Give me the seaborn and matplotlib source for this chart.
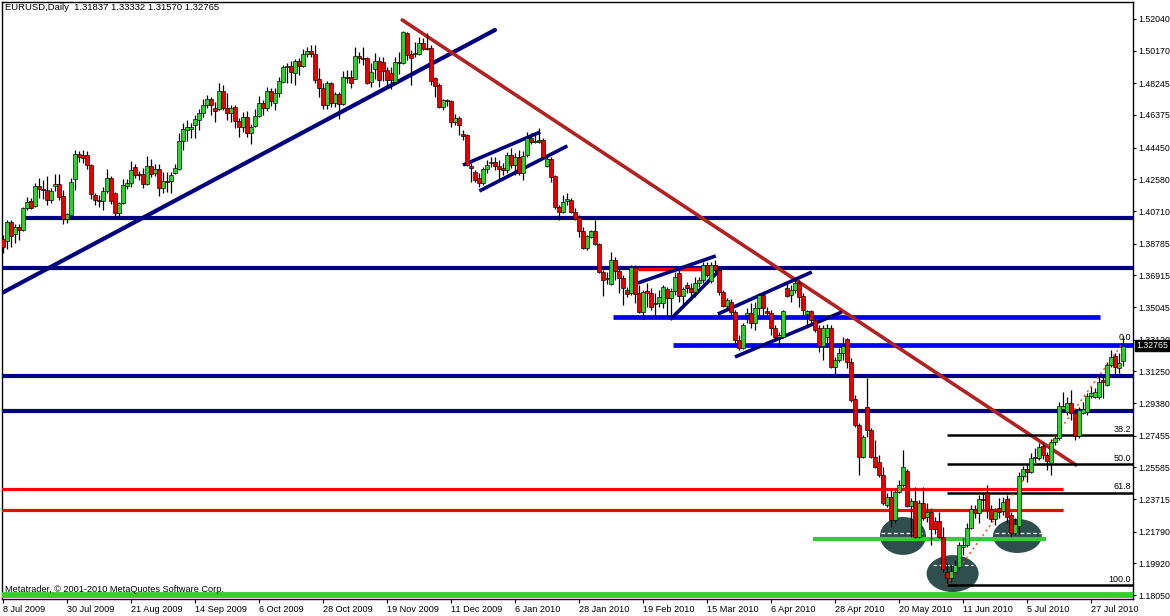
import numpy as np
import matplotlib
matplotlib.use("Agg")
import matplotlib.pyplot as plt
from matplotlib.patches import Ellipse
import seaborn as sns

# EURUSD daily candles, 8 Jul 2009 .. 6 Aug 2010
opens = [
    1.3906, 1.3894, 1.4006, 1.3935, 1.3977, 1.3959, 1.4089, 1.4130, 1.4101, 1.4219,
    1.4201, 1.4195, 1.4136, 1.4219, 1.4230, 1.4160, 1.4024, 1.4047, 1.4260, 1.4407,
    1.4401, 1.4401, 1.4342, 1.4165, 1.4136, 1.4130, 1.4189, 1.4266, 1.4177, 1.4059,
    1.4118, 1.4219, 1.4236, 1.4331, 1.4289, 1.4289, 1.4230, 1.4337, 1.4295, 1.4319,
    1.4207, 1.4248, 1.4248, 1.4295, 1.4319, 1.4484, 1.4549, 1.4555, 1.4578, 1.4608,
    1.4649, 1.4696, 1.4732, 1.4679, 1.4673, 1.4779, 1.4679, 1.4649, 1.4685, 1.4602,
    1.4567, 1.4626, 1.4531, 1.4573, 1.4632, 1.4708, 1.4679, 1.4779, 1.4708, 1.4767,
    1.4832, 1.4921, 1.4927, 1.4885, 1.4956, 1.4927, 1.4997, 1.5015, 1.4997, 1.4850,
    1.4797, 1.4696, 1.4826, 1.4708, 1.4761, 1.4702, 1.4862, 1.4862, 1.4850, 1.4985,
    1.4974, 1.4974, 1.4832, 1.4909, 1.4956, 1.4950, 1.4903, 1.4885, 1.4832, 1.4950,
    1.4944, 1.5121, 1.4997, 1.4997, 1.4997, 1.5062, 1.5033, 1.5033, 1.4856, 1.4814,
    1.4685, 1.4726, 1.4720, 1.4596, 1.4620, 1.4525, 1.4519, 1.4337, 1.4301, 1.4266,
    1.4236, 1.4319, 1.4354, 1.4360, 1.4337, 1.4325, 1.4313, 1.4401, 1.4342, 1.4389,
    1.4295, 1.4401, 1.4502, 1.4478, 1.4490, 1.4490, 1.4337, 1.4378, 1.4278, 1.4095,
    1.4065, 1.4130, 1.4136, 1.4065, 1.4036, 1.3953, 1.3853, 1.3918, 1.3953, 1.3876,
    1.3711, 1.3670, 1.3640, 1.3782, 1.3717, 1.3676, 1.3605, 1.3587, 1.3741, 1.3587,
    1.3475, 1.3599, 1.3587, 1.3528, 1.3528, 1.3528, 1.3611, 1.3558, 1.3599, 1.3705,
    1.3570, 1.3635, 1.3617, 1.3593, 1.3646, 1.3664, 1.3753, 1.3658, 1.3753, 1.3723,
    1.3593, 1.3511, 1.3534, 1.3475, 1.3310, 1.3263, 1.3458, 1.3469, 1.3410, 1.3499,
    1.3576, 1.3481, 1.3469, 1.3381, 1.3328, 1.3328, 1.3617, 1.3576, 1.3605, 1.3646,
    1.3570, 1.3463, 1.3481, 1.3428, 1.3381, 1.3275, 1.3328, 1.3381, 1.3151, 1.3192,
    1.3233, 1.3316, 1.3180, 1.2962, 1.2808, 1.2620, 1.2915, 1.2779, 1.2620, 1.2590,
    1.2513, 1.2336, 1.2384, 1.2248, 1.2413, 1.2455, 1.2537, 1.2330, 1.2360, 1.2148,
    1.2348, 1.2266, 1.2295, 1.2242, 1.2242, 1.2148, 1.1941, 1.1906, 1.1941, 1.1971,
    1.2089, 1.2100, 1.2201, 1.2313, 1.2289, 1.2372, 1.2407, 1.2313, 1.2254, 1.2319,
    1.2301, 1.2372, 1.2278, 1.2171, 1.2212, 1.2508, 1.2549, 1.2531, 1.2620, 1.2614,
    1.2685, 1.2632, 1.2584, 1.2708, 1.2732, 1.2903, 1.2885, 1.2938, 1.2879, 1.2744,
    1.2879, 1.2885, 1.2980, 1.2974, 1.2974, 1.3074, 1.3045, 1.3162, 1.3216, 1.3145,
    1.31837,
]
highs = [
    1.3929, 1.4018, 1.4018, 1.3994, 1.3994, 1.4095, 1.4154, 1.4148, 1.4236, 1.4266,
    1.4254, 1.4278, 1.4207, 1.4289, 1.4289, 1.4195, 1.4059, 1.4266, 1.4431, 1.4425,
    1.4431, 1.4425, 1.4348, 1.4177, 1.4165, 1.4213, 1.4319, 1.4278, 1.4183, 1.4124,
    1.4260, 1.4260, 1.4366, 1.4348, 1.4307, 1.4325, 1.4396, 1.4378, 1.4348, 1.4348,
    1.4301, 1.4301, 1.4301, 1.4348, 1.4531, 1.4590, 1.4608, 1.4590, 1.4637, 1.4673,
    1.4732, 1.4755, 1.4743, 1.4714, 1.4826, 1.4814, 1.4767, 1.4696, 1.4696, 1.4620,
    1.4655, 1.4661, 1.4584, 1.4673, 1.4750, 1.4726, 1.4803, 1.4797, 1.4797, 1.4862,
    1.4932, 1.4944, 1.4956, 1.4968, 1.4974, 1.5027, 1.5039, 1.5050, 1.5050, 1.4915,
    1.4826, 1.4838, 1.4832, 1.4773, 1.4773, 1.4897, 1.4903, 1.4903, 1.5039, 1.5009,
    1.5039, 1.4980, 1.4944, 1.5003, 1.4980, 1.4980, 1.4921, 1.4921, 1.4980, 1.5009,
    1.5133, 1.5127, 1.5021, 1.5068, 1.5098, 1.5092, 1.5121, 1.5050, 1.4862, 1.4826,
    1.4732, 1.4732, 1.4726, 1.4643, 1.4632, 1.4549, 1.4525, 1.4354, 1.4313, 1.4295,
    1.4331, 1.4372, 1.4389, 1.4389, 1.4372, 1.4354, 1.4419, 1.4443, 1.4413, 1.4431,
    1.4425, 1.4537, 1.4531, 1.4531, 1.4561, 1.4502, 1.4389, 1.4389, 1.4283, 1.4106,
    1.4165, 1.4177, 1.4148, 1.4089, 1.4047, 1.3977, 1.3929, 1.3959, 1.4018, 1.3882,
    1.3723, 1.3711, 1.3829, 1.3800, 1.3741, 1.3694, 1.3623, 1.3753, 1.3753, 1.3635,
    1.3605, 1.3646, 1.3617, 1.3587, 1.3605, 1.3635, 1.3623, 1.3617, 1.3711, 1.3723,
    1.3623, 1.3652, 1.3646, 1.3682, 1.3682, 1.3770, 1.3770, 1.3770, 1.3782, 1.3735,
    1.3605, 1.3558, 1.3552, 1.3487, 1.3340, 1.3410, 1.3499, 1.3528, 1.3534, 1.3587,
    1.3587, 1.3505, 1.3487, 1.3399, 1.3357, 1.3487, 1.3646, 1.3635, 1.3676, 1.3664,
    1.3587, 1.3487, 1.3487, 1.3440, 1.3399, 1.3399, 1.3404, 1.3399, 1.3210, 1.3263,
    1.3328, 1.3322, 1.3204, 1.2985, 1.2820, 1.2750, 1.3086, 1.2791, 1.2720, 1.2632,
    1.2561, 1.2407, 1.2425, 1.2425, 1.2484, 1.2661, 1.2549, 1.2378, 1.2443, 1.2366,
    1.2443, 1.2348, 1.2319, 1.2266, 1.2295, 1.2207, 1.1994, 1.1982, 1.2012, 1.2118,
    1.2142, 1.2230, 1.2336, 1.2336, 1.2396, 1.2407, 1.2455, 1.2336, 1.2319, 1.2378,
    1.2384, 1.2396, 1.2295, 1.2260, 1.2531, 1.2566, 1.2572, 1.2643, 1.2673, 1.2702,
    1.2708, 1.2649, 1.2726, 1.2750, 1.2944, 1.3003, 1.2974, 1.3015, 1.2897, 1.2915,
    1.2944, 1.2997, 1.3033, 1.3027, 1.3104, 1.3092, 1.3180, 1.3251, 1.3233, 1.3233,
    1.33332,
]
lows = [
    1.3823, 1.3847, 1.3859, 1.3882, 1.3900, 1.3953, 1.4077, 1.4083, 1.4095, 1.4148,
    1.4142, 1.4106, 1.4118, 1.4189, 1.4136, 1.3994, 1.4000, 1.4047, 1.4195, 1.4360,
    1.4354, 1.4319, 1.4142, 1.4106, 1.4095, 1.4077, 1.4177, 1.4112, 1.4036, 1.4041,
    1.4112, 1.4201, 1.4213, 1.4266, 1.4254, 1.4207, 1.4225, 1.4272, 1.4278, 1.4160,
    1.4177, 1.4183, 1.4177, 1.4289, 1.4313, 1.4431, 1.4484, 1.4502, 1.4502, 1.4549,
    1.4626, 1.4679, 1.4637, 1.4596, 1.4667, 1.4667, 1.4608, 1.4596, 1.4561, 1.4508,
    1.4537, 1.4508, 1.4466, 1.4567, 1.4626, 1.4637, 1.4661, 1.4690, 1.4667, 1.4743,
    1.4826, 1.4826, 1.4826, 1.4814, 1.4873, 1.4921, 1.4980, 1.4980, 1.4826, 1.4743,
    1.4673, 1.4673, 1.4685, 1.4685, 1.4614, 1.4696, 1.4826, 1.4797, 1.4850, 1.4944,
    1.4932, 1.4820, 1.4803, 1.4850, 1.4803, 1.4838, 1.4803, 1.4791, 1.4826, 1.4879,
    1.4938, 1.4962, 1.4814, 1.4980, 1.4991, 1.5021, 1.5021, 1.4814, 1.4743, 1.4679,
    1.4667, 1.4690, 1.4567, 1.4578, 1.4519, 1.4490, 1.4337, 1.4242, 1.4242, 1.4213,
    1.4225, 1.4295, 1.4331, 1.4313, 1.4260, 1.4283, 1.4295, 1.4325, 1.4283, 1.4283,
    1.4254, 1.4389, 1.4466, 1.4472, 1.4472, 1.4384, 1.4331, 1.4242, 1.4083, 1.4018,
    1.4059, 1.4106, 1.4059, 1.4018, 1.3918, 1.3847, 1.3841, 1.3912, 1.3871, 1.3705,
    1.3569, 1.3640, 1.3635, 1.3664, 1.3587, 1.3516, 1.3564, 1.3576, 1.3528, 1.3469,
    1.3434, 1.3505, 1.3487, 1.3446, 1.3505, 1.3499, 1.3446, 1.3428, 1.3576, 1.3534,
    1.3516, 1.3587, 1.3546, 1.3564, 1.3623, 1.3646, 1.3682, 1.3646, 1.3711, 1.3576,
    1.3505, 1.3487, 1.3458, 1.3292, 1.3251, 1.3257, 1.3410, 1.3381, 1.3369, 1.3458,
    1.3446, 1.3458, 1.3340, 1.3310, 1.3269, 1.3322, 1.3564, 1.3534, 1.3587, 1.3505,
    1.3458, 1.3399, 1.3399, 1.3357, 1.3239, 1.3192, 1.3269, 1.3145, 1.3103, 1.3180,
    1.3192, 1.3145, 1.2944, 1.2797, 1.2513, 1.2614, 1.2738, 1.2614, 1.2555, 1.2502,
    1.2336, 1.2325, 1.2207, 1.2230, 1.2407, 1.2443, 1.2325, 1.2148, 1.2142, 1.2142,
    1.2248, 1.2236, 1.2100, 1.2165, 1.2142, 1.1941, 1.1870, 1.1882, 1.1935, 1.1965,
    1.2041, 1.2089, 1.2195, 1.2260, 1.2230, 1.2307, 1.2260, 1.2236, 1.2219, 1.2260,
    1.2278, 1.2230, 1.2148, 1.2159, 1.2165, 1.2484, 1.2472, 1.2525, 1.2590, 1.2602,
    1.2608, 1.2543, 1.2513, 1.2691, 1.2720, 1.2885, 1.2868, 1.2838, 1.2720, 1.2732,
    1.2873, 1.2868, 1.2968, 1.2968, 1.2962, 1.2968, 1.3039, 1.3151, 1.3110, 1.3116,
    1.31570,
]
closes = [
    1.3859, 1.4006, 1.3924, 1.3977, 1.3959, 1.4089, 1.4124, 1.4089, 1.4219, 1.4201,
    1.4195, 1.4136, 1.4189, 1.4230, 1.4154, 1.4024, 1.4053, 1.4242, 1.4407, 1.4389,
    1.4384, 1.4342, 1.4171, 1.4136, 1.4130, 1.4189, 1.4266, 1.4130, 1.4059, 1.4118,
    1.4225, 1.4236, 1.4313, 1.4283, 1.4283, 1.4230, 1.4337, 1.4289, 1.4319, 1.4207,
    1.4248, 1.4242, 1.4283, 1.4325, 1.4484, 1.4555, 1.4567, 1.4567, 1.4614, 1.4649,
    1.4696, 1.4732, 1.4696, 1.4661, 1.4779, 1.4679, 1.4649, 1.4679, 1.4602, 1.4567,
    1.4626, 1.4531, 1.4567, 1.4632, 1.4708, 1.4679, 1.4779, 1.4720, 1.4767, 1.4838,
    1.4921, 1.4927, 1.4891, 1.4956, 1.4927, 1.4997, 1.5015, 1.4997, 1.4844, 1.4797,
    1.4696, 1.4826, 1.4708, 1.4761, 1.4702, 1.4862, 1.4856, 1.4826, 1.4985, 1.4974,
    1.4968, 1.4826, 1.4891, 1.4956, 1.4844, 1.4897, 1.4844, 1.4844, 1.4950, 1.4944,
    1.5127, 1.4991, 1.4974, 1.5003, 1.5062, 1.5027, 1.5027, 1.4838, 1.4809, 1.4685,
    1.4726, 1.4720, 1.4596, 1.4620, 1.4578, 1.4514, 1.4342, 1.4325, 1.4254, 1.4236,
    1.4319, 1.4342, 1.4360, 1.4337, 1.4319, 1.4313, 1.4401, 1.4342, 1.4389, 1.4295,
    1.4396, 1.4502, 1.4478, 1.4484, 1.4478, 1.4389, 1.4378, 1.4272, 1.4095, 1.4065,
    1.4124, 1.4142, 1.4065, 1.4024, 1.3953, 1.3853, 1.3924, 1.3953, 1.3876, 1.3711,
    1.3664, 1.3676, 1.3782, 1.3717, 1.3676, 1.3617, 1.3582, 1.3741, 1.3582, 1.3475,
    1.3593, 1.3587, 1.3505, 1.3522, 1.3564, 1.3623, 1.3558, 1.3599, 1.3682, 1.3570,
    1.3611, 1.3617, 1.3593, 1.3646, 1.3664, 1.3753, 1.3694, 1.3753, 1.3723, 1.3593,
    1.3511, 1.3546, 1.3475, 1.3310, 1.3263, 1.3399, 1.3469, 1.3410, 1.3499, 1.3576,
    1.3499, 1.3469, 1.3381, 1.3328, 1.3340, 1.3481, 1.3570, 1.3605, 1.3646, 1.3564,
    1.3487, 1.3481, 1.3428, 1.3369, 1.3275, 1.3381, 1.3381, 1.3151, 1.3192, 1.3233,
    1.3275, 1.3180, 1.2956, 1.2808, 1.2620, 1.2738, 1.2779, 1.2620, 1.2561, 1.2513,
    1.2348, 1.2384, 1.2248, 1.2413, 1.2455, 1.2561, 1.2330, 1.2360, 1.2148, 1.2348,
    1.2260, 1.2295, 1.2195, 1.2195, 1.2148, 1.1959, 1.1906, 1.1947, 1.1982, 1.2100,
    1.2100, 1.2201, 1.2313, 1.2289, 1.2372, 1.2366, 1.2307, 1.2254, 1.2301, 1.2295,
    1.2354, 1.2266, 1.2171, 1.2224, 1.2508, 1.2549, 1.2531, 1.2614, 1.2614, 1.2679,
    1.2632, 1.2596, 1.2708, 1.2732, 1.2921, 1.2921, 1.2938, 1.2879, 1.2744, 1.2897,
    1.2903, 1.2980, 1.2997, 1.3003, 1.3062, 1.3062, 1.3162, 1.3210, 1.3151, 1.3174,
    1.32765,
]

date_labels = ["8 Jul 2009", "30 Jul 2009", "21 Aug 2009", "14 Sep 2009", "6 Oct 2009",
               "28 Oct 2009", "19 Nov 2009", "11 Dec 2009", "6 Jan 2010", "28 Jan 2010",
               "19 Feb 2010", "15 Mar 2010", "6 Apr 2010", "28 Apr 2010", "20 May 2010",
               "11 Jun 2010", "5 Jul 2010", "27 Jul 2010"]
bars_per_label = 16

price_ticks = [1.52040, 1.50170, 1.48245, 1.46375, 1.44450, 1.42580, 1.40710, 1.38785,
               1.36915, 1.35045, 1.33120, 1.31250, 1.29380, 1.27455, 1.25585, 1.23715,
               1.21790, 1.19920, 1.18050]

# objects drawn on the chart, anchors as (bar index, price)
navy_levels = [1.4030, 1.3735, 1.3098, 1.2891]
navy_starts = [5.5, -1, -1, -1]
blue_levels = [1.3443, 1.3283]
blue_spans = [(152.5, 274.2), (167.5, 283)]
red_levels = [1.2428, 1.2310]
red_end = 265
red_short = [(158.7, 1.3729), (178.5, 1.3729)]
green_levels = [1.2138, 1.1805]
green_spans = [(202.5, 260.7), (-1, 283)]
up_trend = [(-0.3, 1.3587), (123, 1.5139)]
down_trend = [(99.8, 1.5198), (268.2, 1.2573)]
navy_channels = [
    [(115.0, 1.4342), (134.3, 1.4537)],
    [(119.1, 1.4189), (141.1, 1.4455)],
    [(158.7, 1.3646), (178.2, 1.3806)],
    [(167.2, 1.3440), (179.7, 1.3735)],
    [(178.7, 1.3463), (202.2, 1.3711)],
    [(183.0, 1.3210), (209.7, 1.3475)],
]
fib_low, fib_high = 1.1863, 1.3293
fib_start = 235.9
fib_levels = [0.0, 38.2, 50.0, 61.8, 100.0]
fib_trend = [(235.9, 1.1863), (280.0, 1.3293)]
ellipses = [(225.0, 1.2154, 11.5, 0.0224), (253.6, 1.2154, 12.2, 0.0201),
            (237.4, 1.1932, 13.0, 0.0218)]
white_dashes = [(219.5, 230.5, 1.2171), (248.0, 259.5, 1.2171), (232.5, 242.5, 1.1983)]

sns.set_theme(style="white")
plt.rcParams["font.family"] = ["Liberation Sans", "DejaVu Sans"]

fig = plt.figure(figsize=(11.7, 6.16), dpi=100)
ax = fig.add_axes([2 / 1170, 1 - 599 / 616, 1131 / 1170, 597 / 616])
ax.set_facecolor("white")

o = np.array(opens)
h = np.array(highs)
l = np.array(lows)
c = np.array(closes)
x = np.arange(len(c))
xmax = 282.5

# candles
ax.vlines(x, l, h, color="black", linewidth=0.9, zorder=5)
body_col = np.where(c > o, "#32cd32", np.where(c < o, "#e00000", "black"))
ax.bar(x, np.abs(c - o), bottom=np.minimum(o, c), width=0.8, color=body_col,
       edgecolor="black", linewidth=0.45, zorder=6)

# ellipses (background)
for cx, cy, w, hh in ellipses:
    ax.add_patch(Ellipse((cx, cy), w, hh, facecolor="#2f4f4f", edgecolor="none", zorder=1))
for x0, x1, y in white_dashes:
    ax.plot([x0, x1], [y, y], color="white", linewidth=0.9, dashes=(3, 2), zorder=2)

# horizontal levels
for y, x0 in zip(navy_levels, navy_starts):
    ax.plot([x0, xmax + 1], [y, y], color="#000080", linewidth=3.0, solid_capstyle="butt", zorder=4)
for y, (x0, x1) in zip(blue_levels, blue_spans):
    ax.plot([x0, x1], [y, y], color="#0000ff", linewidth=3.4, solid_capstyle="butt", zorder=4)
for y in red_levels:
    ax.plot([-1, red_end], [y, y], color="#ff0000", linewidth=2.3, solid_capstyle="butt", zorder=4)
ax.plot(*zip(*red_short), color="#ff0000", linewidth=2.5, solid_capstyle="butt", zorder=4)
for y, (x0, x1), lw in zip(green_levels, green_spans, [3.0, 4.2]):
    ax.plot([x0, x1], [y, y], color="#32cd32", linewidth=lw, solid_capstyle="butt", zorder=4)

# trend lines and channels
ax.plot(*zip(*up_trend), color="#000080", linewidth=3.0, zorder=4)
ax.plot(*zip(*down_trend), color="#b22222", linewidth=2.6, zorder=4)
for seg in navy_channels:
    ax.plot(*zip(*seg), color="#000080", linewidth=2.6, solid_capstyle="butt", zorder=4)

# fibonacci retracement (the 0.0 line sits under the blue level)
for lvl in fib_levels:
    y = fib_high - lvl / 100 * (fib_high - fib_low)
    if lvl > 0:
        ax.plot([fib_start, xmax + 1], [y, y], color="black", linewidth=1.8,
                solid_capstyle="butt", zorder=4)
    ax.text(xmax - 0.5, y + 0.0007, f"{lvl:.1f}", ha="right", va="bottom", fontsize=6.5,
            color="black", zorder=8)
ax.plot(*zip(*fib_trend), color="#ff4500", linewidth=1.0, dashes=(1.5, 2.5), zorder=4)

ax.set_xlim(-0.25, xmax)
ax.set_ylim(1.1782, 1.5304)

# axes / ticks (price scale on the right, dates at the bottom)
ax.yaxis.tick_right()
ax.set_yticks(price_ticks)
ax.set_yticklabels([f"{v:.5f}" for v in price_ticks])
ax.set_xticks(np.arange(len(date_labels)) * bars_per_label)
ax.set_xticklabels(date_labels, ha="left")
ax.tick_params(axis="y", direction="out", length=2.5, width=0.8, pad=1, labelsize=6.3,
               colors="black", right=True, left=False)
ax.tick_params(axis="x", direction="out", length=3, width=0.8, pad=1, labelsize=6.6,
               colors="black", bottom=True)
for sp in ax.spines.values():
    sp.set_color("black")
    sp.set_linewidth(1.0)
ax.grid(False)

# current price marker
ax.text(1.003, closes[-1], f"{closes[-1]:.5f}", transform=ax.get_yaxis_transform(),
        ha="left", va="center", fontsize=6.3, color="white", zorder=10, clip_on=False,
        bbox=dict(boxstyle="square,pad=0.12", facecolor="black", edgecolor="black"))

fig.text(5 / 1170, 1 - 3 / 616, "EURUSD,Daily  1.31837 1.33332 1.31570 1.32765",
         ha="left", va="top", fontsize=6.8, color="black")
fig.text(5 / 1170, 1 - 590 / 616, "Metatrader, \u00a9 2001-2010 MetaQuotes Software Corp.",
         ha="left", va="center", fontsize=6.6, color="black")

fig.savefig("out.png", dpi=100)
